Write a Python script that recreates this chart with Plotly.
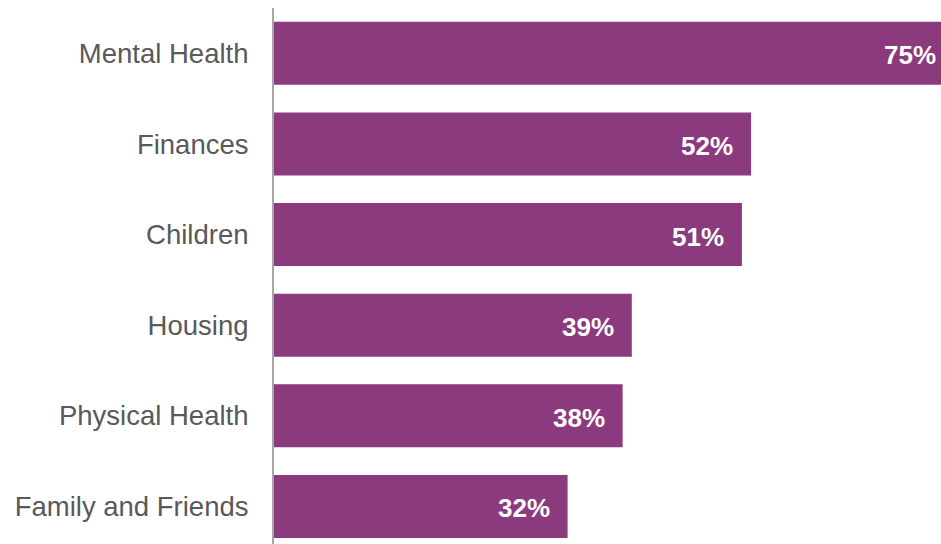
import plotly.graph_objects as go

# Share of respondents citing each area
categories = ["Mental Health", "Finances", "Children", "Housing",
              "Physical Health", "Family and Friends"]
values = [75, 52, 51, 39, 38, 32]
labels = ["75%", "52%", "51%", "39%", "38%", "32%"]

BAR_COLOR = "#8B3A7D"
X_MAX = 72.7  # visible extent of the value axis; the largest bar runs past it

fig = go.Figure(
    go.Bar(
        x=values,
        y=categories,
        orientation="h",
        marker=dict(color=BAR_COLOR, line=dict(width=0)),
        hoverinfo="skip",
    )
)

# Value labels sit inside the right end of each bar (or of the visible part)
for cat, val, lab in zip(categories, values, labels):
    clipped = val > X_MAX
    fig.add_annotation(
        x=min(val, X_MAX),
        y=cat,
        xref="x",
        yref="y",
        text=lab,
        showarrow=False,
        xanchor="right",
        yanchor="middle",
        xshift=-3 if clipped else -16,
        yshift=-2,
        font=dict(family="Liberation Sans, Arial, sans-serif", size=26,
                  color="white", weight="bold"),
    )

fig.update_layout(
    width=941,
    height=544,
    margin=dict(l=274, r=0, t=8, b=0),
    paper_bgcolor="white",
    plot_bgcolor="white",
    bargap=0.305,
    showlegend=False,
    xaxis=dict(
        range=[0, X_MAX],
        visible=False,
        fixedrange=True,
    ),
    yaxis=dict(
        categoryorder="array",
        categoryarray=categories,
        range=[5.414, -0.5],
        showline=True,
        linecolor="#A6A6A6",
        linewidth=2,
        showgrid=False,
        zeroline=False,
        ticks="",
        ticklabelstandoff=18,
        tickfont=dict(family="Liberation Sans, Arial, sans-serif", size=27.5,
                      color="#595959"),
        fixedrange=True,
    ),
)

fig.write_html("out.html")
